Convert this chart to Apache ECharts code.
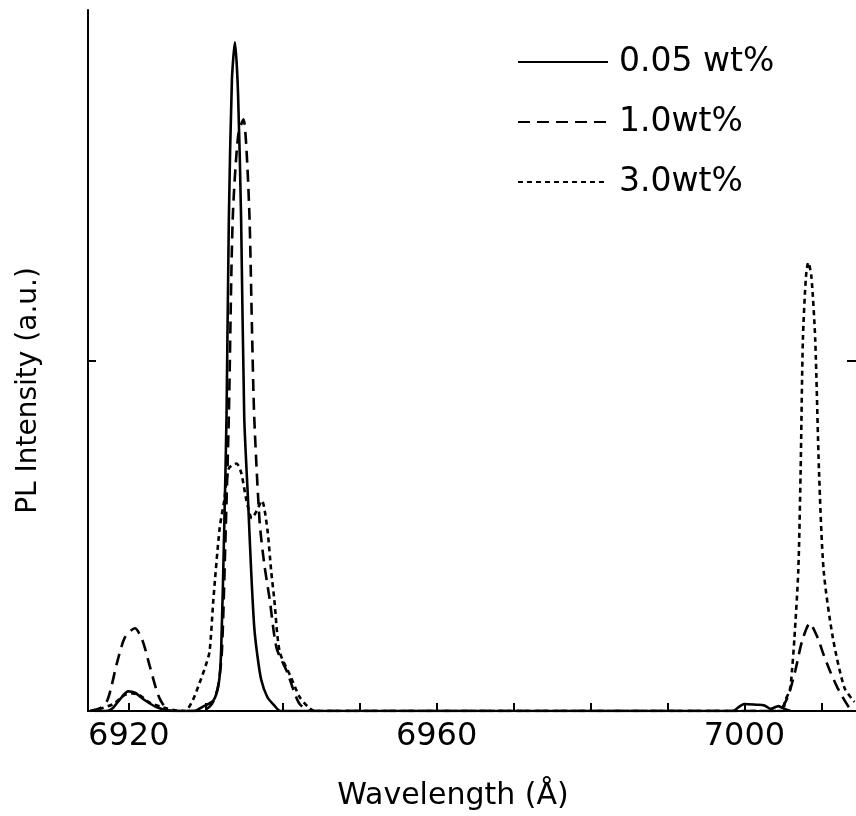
<!DOCTYPE html>
<html>
<head>
<meta charset="utf-8">
<script src="https://cdn.jsdelivr.net/npm/echarts@6/dist/echarts.min.js"></script>
<style>html,body{margin:0;padding:0;background:#fff;}#c{width:856px;height:816px;}</style>
</head>
<body>
<div id="c"></div>
<script>
// Wavelength (Å) and PL intensity (a.u., 0–100 full scale)
const wl005 = [6915.5, 6917.0, 6917.9, 6918.8, 6919.9, 6920.8, 6922.0, 6923.5, 6925.0, 6927.0, 6928.5, 6929.6, 6931.0, 6931.7, 6932.0, 6932.4, 6932.7, 6933.0, 6933.4, 6933.8, 6934.2, 6934.6, 6935.0, 6935.5, 6935.9, 6936.3, 6936.7, 6937.2, 6938.0, 6938.9, 6939.7, 6950.0, 6970.0, 6990.0, 6998.5, 6999.3, 7000.0, 7001.5, 7002.6, 7003.4, 7004.4, 7005.2, 7006.0];
const pl005 = [0, 0, 0.4, 1.6, 2.8, 2.6, 1.6, 0.6, 0.1, 0, 0, 0.6, 1.5, 4, 8.5, 26, 42, 70, 90, 95.4, 88, 70, 42, 30, 20, 12, 8, 4.5, 2, 0.8, 0, 0, 0, 0, 0, 0.6, 1.0, 0.9, 0.8, 0.3, 0.7, 0.3, 0];

const wl10 = [6915.0, 6916.4, 6917.2, 6917.7, 6918.5, 6919.5, 6920.8, 6921.8, 6922.7, 6924.0, 6925.4, 6929.5, 6930.8, 6931.6, 6932.1, 6932.6, 6933.0, 6933.5, 6934.2, 6934.9, 6935.3, 6935.7, 6936.0, 6936.3, 6937.0, 6937.6, 6938.3, 6939.2, 6940.6, 6941.4, 6942.2, 6943.6, 6960, 6980, 7000, 7004.5, 7005.1, 7005.8, 7006.6, 7007.5, 7008.5, 7009.5, 7010.3, 7011.2, 7012.1, 7013.6, 7014.3];
const pl10 = [0, 0.5, 1.5, 3.3, 7, 10.5, 11.8, 10, 6.5, 1.8, 0, 0, 1, 3.5, 8.5, 26, 42, 70, 82, 84.4, 80, 70, 55, 42, 27, 21, 16, 9, 5.5, 3, 1, 0, 0, 0, 0, 0, 0.8, 2.5, 5.7, 10, 12.5, 10.5, 8, 5.5, 3.3, 0.5, 0];

const wl30 = [6915.0, 6916.5, 6918.0, 6919.5, 6920.5, 6921.5, 6922.7, 6924.5, 6926.0, 6927.3, 6928.3, 6929.2, 6930.0, 6930.5, 6931.0, 6931.8, 6932.4, 6933.0, 6934.0, 6934.6, 6935.3, 6936.0, 6936.6, 6937.3, 6938.0, 6938.5, 6938.9, 6939.6, 6941.0, 6942.2, 6943.2, 6944.1, 6960, 6980, 7000, 7004.9, 7005.3, 7005.9, 7006.2, 7006.5, 7007.0, 7007.3, 7007.6, 7008.0, 7008.3, 7008.7, 7009.2, 7009.7, 7010.3, 7011.5, 7013.0, 7014.3];
const pl30 = [0, 0.4, 1.0, 2.3, 2.5, 2.2, 1.2, 0.5, 0.1, 0, 1.5, 4, 6.5, 8.5, 16, 26, 30, 34.6, 35.3, 34, 30, 27.5, 28.5, 30, 26, 20, 16, 8.5, 5, 2, 0.7, 0, 0, 0, 0, 0, 1.5, 3, 6, 10.4, 20, 34, 53, 62, 64, 62, 53, 34, 20, 10.4, 3.3, 1.3];

const seriesNames = ['0.05 wt%', '1.0wt%', '3.0wt%'];
const xTickValues = [6920, 6930, 6940, 6950, 6960, 6970, 6980, 6990, 7000, 7010];
const xLabelValues = [6920, 6960, 7000];
const yTickValues = [50];
const X_MIN = 6914.7, X_MAX = 7014.5;

const zip = (a, b) => a.map((v, i) => [v, b[i]]);
const FONT = 'DejaVu Sans';

const chart = echarts.init(document.getElementById('c'), null, {renderer: 'canvas'});
const mk = (name, x, y, type) => ({
  name: name, type: 'line', data: zip(x, y), showSymbol: false, symbol: 'none',
  smooth: 0.25, animation: false, clip: true,
  itemStyle: {color: '#000'},
  lineStyle: {color: '#000', width: 2.6, type: type}
});
chart.setOption({
  backgroundColor: '#fff',
  animation: false,
  grid: {left: 88, right: 0, top: 10, bottom: 103, containLabel: false},
  legend: {
    orient: 'vertical', left: 517, top: 45, itemWidth: 90, itemHeight: 14, itemGap: 26,
    padding: 0,
    itemStyle: {opacity: 0},
    textStyle: {fontFamily: FONT, fontSize: 33, color: '#000', lineHeight: 34, padding: [0, 0, 0, 6]},
    data: seriesNames
  },
  xAxis: [{
    type: 'value', position: 'bottom', min: X_MIN, max: X_MAX,
    axisLine: {lineStyle: {color: '#000', width: 2}},
    axisTick: {inside: true, length: 8, customValues: xTickValues, lineStyle: {color: '#000', width: 2}},
    axisLabel: {customValues: xLabelValues, formatter: v => String(v), fontFamily: FONT, fontSize: 32, color: '#000', margin: 10},
    splitLine: {show: false},
    name: 'Wavelength (Å)', nameLocation: 'middle', nameGap: 70,
    nameTextStyle: {fontFamily: FONT, fontSize: 30, color: '#000', padding: [0, 38, 0, 0]}
  }, {
    type: 'value', position: 'top', min: X_MIN, max: X_MAX,
    axisLine: {show: true, lineStyle: {color: '#000', width: 2}},
    axisTick: {show: false}, axisLabel: {show: false}, splitLine: {show: false}
  }],
  yAxis: [{
    type: 'value', position: 'left', min: 0, max: 100,
    axisLine: {show: true, lineStyle: {color: '#000', width: 2}},
    axisTick: {show: true, inside: true, length: 8, customValues: yTickValues, lineStyle: {color: '#000', width: 2}},
    axisLabel: {show: false}, splitLine: {show: false},
    name: 'PL Intensity (a.u.)', nameLocation: 'middle', nameGap: 45,
    nameTextStyle: {fontFamily: FONT, fontSize: 28, color: '#000', padding: [0, 60, 0, 0]}
  }, {
    type: 'value', position: 'right', min: 0, max: 100,
    axisLine: {show: false},
    axisTick: {show: true, inside: true, length: 9, customValues: yTickValues, lineStyle: {color: '#000', width: 2}},
    axisLabel: {show: false}, splitLine: {show: false}
  }],
  series: [
    mk(seriesNames[0], wl005, pl005, 'solid'),
    mk(seriesNames[1], wl10, pl10, [12, 7]),
    mk(seriesNames[2], wl30, pl30, [5, 4])
  ]
});
</script>
</body>
</html>
